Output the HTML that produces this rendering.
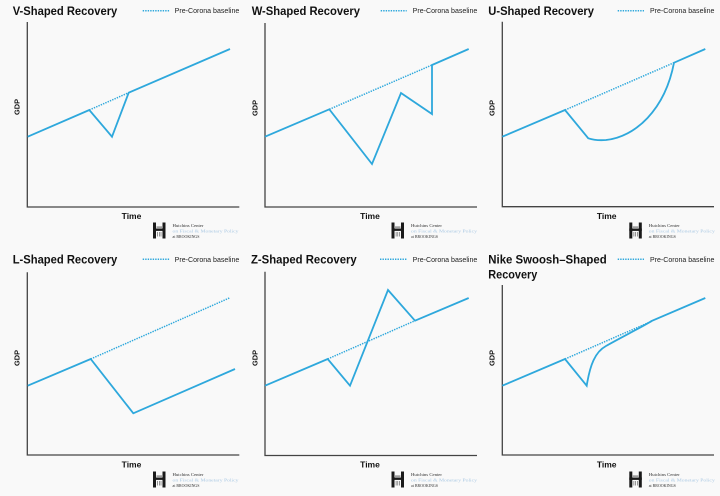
<!DOCTYPE html>
<html>
<head>
<meta charset="utf-8">
<style>
  html, body { margin:0; padding:0; background:#f9f9f9; }
  svg { display:block; }
  .title { font-family:"Liberation Sans", Arial, sans-serif; font-weight:bold; font-size:12.4px; fill:#111; }
  .leg { font-family:"Liberation Sans", Arial, sans-serif; font-size:7px; fill:#222; }
  .gdp { font-family:"Liberation Sans", Arial, sans-serif; font-weight:bold; font-size:7.4px; fill:#111; }
  .time { font-family:"Liberation Sans", Arial, sans-serif; font-weight:bold; font-size:8.5px; fill:#111; }
  .axis { fill:none; stroke:#444; stroke-width:1.3; }
  .ser { fill:none; stroke:#2ea8dc; stroke-width:1.8; stroke-linejoin:miter; }
  .dot { fill:none; stroke:#2ea8dc; stroke-width:1.5; stroke-dasharray:1.4 1.1; }
  .lt1 { font-family:"Liberation Serif", serif; font-size:4.6px; fill:#333; }
  .lt2 { font-family:"Liberation Serif", serif; font-size:4.6px; fill:#a9c8e3; }
  .lt3 { font-family:"Liberation Serif", serif; font-size:4.2px; fill:#333; }
</style>
</head>
<body>
<svg width="720" height="496" viewBox="0 0 720 496" xmlns="http://www.w3.org/2000/svg">
  <defs>
    <g id="logo">
      <rect x="0" y="0" width="3" height="16" fill="#1a1a1a"/>
      <rect x="9.5" y="0" width="3" height="16" fill="#1a1a1a"/>
      <rect x="0" y="6" width="12.5" height="2.4" fill="#1a1a1a"/>
      <rect x="4.3" y="9.5" width="0.6" height="4.5" fill="#555"/>
      <rect x="6" y="9.5" width="0.6" height="4.5" fill="#555"/>
      <rect x="7.7" y="9.5" width="0.6" height="4.5" fill="#555"/>
      <rect x="3.5" y="4" width="5.5" height="1.2" fill="#777"/>
      <text class="lt1" x="19.5" y="4.3" textLength="31" lengthAdjust="spacingAndGlyphs">Hutchins Center</text>
      <text class="lt2" x="19.5" y="10" textLength="66" lengthAdjust="spacingAndGlyphs">on Fiscal &amp; Monetary Policy</text>
      <text class="lt3" x="19.5" y="15.6" textLength="27" lengthAdjust="spacingAndGlyphs">at BROOKINGS</text>
    </g>
  </defs>

  <rect x="0" y="0" width="720" height="496" fill="#f9f9f9"/>

  <!-- ===== Panel 1: V ===== -->
  <text class="title" x="12.7" y="14.9" textLength="104.6" lengthAdjust="spacingAndGlyphs">V-Shaped Recovery</text>
  <line class="dot" x1="142.7" y1="10.7" x2="169.3" y2="10.7"/>
  <text class="leg" x="174.7" y="13.2" textLength="64.6" lengthAdjust="spacingAndGlyphs">Pre-Corona baseline</text>
  <path class="axis" d="M27.3,22 V207 H239.3"/>
  <path class="dot" d="M89.3,110 L128.7,92.7"/>
  <path class="ser" d="M27.7,136.7 L89.3,110 L112,136.7 L128.7,92.7 L230,49"/>
  <text class="gdp" transform="translate(19.4,107) rotate(-90)" text-anchor="middle">GDP</text>
  <text class="time" x="131.5" y="219" text-anchor="middle">Time</text>
  <use href="#logo" x="153" y="222.5"/>

  <!-- ===== Panel 2: W ===== -->
  <text class="title" x="251.7" y="14.9" textLength="108.3" lengthAdjust="spacingAndGlyphs">W-Shaped Recovery</text>
  <line class="dot" x1="380.7" y1="10.7" x2="406.7" y2="10.7"/>
  <text class="leg" x="412.7" y="13.2" textLength="64.6" lengthAdjust="spacingAndGlyphs">Pre-Corona baseline</text>
  <path class="axis" d="M265,23 V207 H477"/>
  <path class="dot" d="M329.3,109.3 L432,65"/>
  <path class="ser" d="M265,136.7 L329.3,109.3 L372,164 L401,93 L432,114 L432,65 L468.7,49"/>
  <text class="gdp" transform="translate(257.7,108) rotate(-90)" text-anchor="middle">GDP</text>
  <text class="time" x="370" y="219" text-anchor="middle">Time</text>
  <use href="#logo" x="391.5" y="222.5"/>

  <!-- ===== Panel 3: U ===== -->
  <text class="title" x="488.3" y="14.9" textLength="105.7" lengthAdjust="spacingAndGlyphs">U-Shaped Recovery</text>
  <line class="dot" x1="617.7" y1="10.7" x2="644" y2="10.7"/>
  <text class="leg" x="650" y="13.2" textLength="64.4" lengthAdjust="spacingAndGlyphs">Pre-Corona baseline</text>
  <path class="axis" d="M502.3,21.7 V206.7 H714"/>
  <path class="dot" d="M565,110 L674,62.7"/>
  <path class="ser" d="M502.3,136.7 L565,110 L588.3,138.3 Q596,140.8 606,140 C635,137 665,110 674,62.7 L705.3,49"/>
  <text class="gdp" transform="translate(494.4,108) rotate(-90)" text-anchor="middle">GDP</text>
  <text class="time" x="606.7" y="219" text-anchor="middle">Time</text>
  <use href="#logo" x="629.3" y="222.5"/>

  <!-- ===== Panel 4: L ===== -->
  <text class="title" x="12.7" y="263.5" textLength="104.6" lengthAdjust="spacingAndGlyphs">L-Shaped Recovery</text>
  <line class="dot" x1="142.7" y1="259.3" x2="169.3" y2="259.3"/>
  <text class="leg" x="174.7" y="261.8" textLength="64.6" lengthAdjust="spacingAndGlyphs">Pre-Corona baseline</text>
  <path class="axis" d="M27.3,272.3 V455 H239.3"/>
  <path class="dot" d="M90.7,359 L230,297.7"/>
  <path class="ser" d="M27.7,385.7 L90.7,359 L133.3,413.3 L235,369"/>
  <text class="gdp" transform="translate(19.4,358) rotate(-90)" text-anchor="middle">GDP</text>
  <text class="time" x="131.5" y="467.5" text-anchor="middle">Time</text>
  <use href="#logo" x="153" y="471.5"/>

  <!-- ===== Panel 5: Z ===== -->
  <text class="title" x="251" y="263.5" textLength="105.7" lengthAdjust="spacingAndGlyphs">Z-Shaped Recovery</text>
  <line class="dot" x1="380" y1="259.3" x2="406.7" y2="259.3"/>
  <text class="leg" x="412.7" y="261.8" textLength="64.6" lengthAdjust="spacingAndGlyphs">Pre-Corona baseline</text>
  <path class="axis" d="M265,271.7 V455.5 H477"/>
  <path class="dot" d="M327.7,359 L415,320.7"/>
  <path class="ser" d="M265,385.7 L327.7,359 L350,385.7 L388,290 L415,320.7 L468.7,298"/>
  <text class="gdp" transform="translate(257.7,358) rotate(-90)" text-anchor="middle">GDP</text>
  <text class="time" x="370" y="467.5" text-anchor="middle">Time</text>
  <use href="#logo" x="391.5" y="471.5"/>

  <!-- ===== Panel 6: Nike Swoosh ===== -->
  <text class="title" x="488.3" y="263.5" textLength="118.4" lengthAdjust="spacingAndGlyphs">Nike Swoosh–Shaped</text>
  <text class="title" x="488.3" y="278.5" textLength="49" lengthAdjust="spacingAndGlyphs">Recovery</text>
  <line class="dot" x1="617.7" y1="259.3" x2="644" y2="259.3"/>
  <text class="leg" x="650" y="261.8" textLength="64.4" lengthAdjust="spacingAndGlyphs">Pre-Corona baseline</text>
  <path class="axis" d="M502.3,285 V455 H714"/>
  <path class="dot" d="M565,359 L650,322"/>
  <path class="ser" d="M502.3,385.7 L565,359 L586.7,385.7 C590,365 595,352 606,346 C620,338 640,328 652,320.8 L705.3,298"/>
  <text class="gdp" transform="translate(494.4,358) rotate(-90)" text-anchor="middle">GDP</text>
  <text class="time" x="606.7" y="467.5" text-anchor="middle">Time</text>
  <use href="#logo" x="629.3" y="471.5"/>
</svg>
</body>
</html>
